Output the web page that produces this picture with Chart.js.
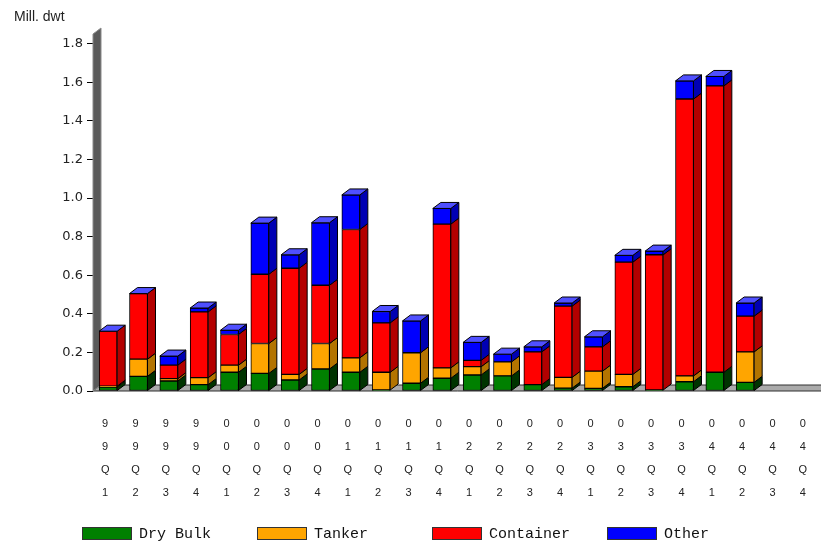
<!DOCTYPE html>
<html>
<head>
<meta charset="utf-8">
<script src="https://cdn.jsdelivr.net/npm/chart.js@4.4.1/dist/chart.umd.min.js"></script>
<style>
  html, body { margin: 0; padding: 0; background: #ffffff; overflow: hidden; }
  #wrap { width: 821px; height: 541px; position: relative; }
</style>
</head>
<body>
<div id="wrap"><canvas id="c" width="821" height="541"></canvas></div>
<script>
// Quarterly deliveries, million dwt, by ship type
const quarters = ['99Q1','99Q2','99Q3','99Q4','00Q1','00Q2','00Q3','00Q4',
                  '01Q1','01Q2','01Q3','01Q4','02Q1','02Q2','02Q3','02Q4',
                  '03Q1','03Q2','03Q3','03Q4','04Q1','04Q2','04Q3','04Q4'];
const dryBulk   = [0.020, 0.076, 0.052, 0.033, 0.097, 0.091, 0.057, 0.114,
                   0.097, 0.005, 0.040, 0.066, 0.083, 0.078, 0.033, 0.015,
                   0.014, 0.022, 0.005, 0.048, 0.097, 0.045, 0, 0];
const tanker    = [0.005, 0.089, 0.012, 0.036, 0.037, 0.155, 0.029, 0.132,
                   0.075, 0.092, 0.158, 0.054, 0.043, 0.073, 0.000, 0.056,
                   0.089, 0.064, 0.000, 0.030, 0.000, 0.158, 0, 0];
const container = [0.285, 0.340, 0.070, 0.341, 0.159, 0.359, 0.550, 0.302,
                   0.665, 0.256, 0.000, 0.745, 0.033, 0.000, 0.170, 0.369,
                   0.126, 0.582, 0.701, 1.435, 1.484, 0.185, 0, 0];
const other     = [0.000, 0.000, 0.047, 0.020, 0.022, 0.265, 0.070, 0.324,
                   0.179, 0.059, 0.165, 0.081, 0.093, 0.040, 0.026, 0.016,
                   0.052, 0.035, 0.019, 0.094, 0.049, 0.068, 0, 0];

const seriesNames = ['Dry Bulk', 'Tanker', 'Container', 'Other'];
const seriesData  = [dryBulk, tanker, container, other];
const frontColors = ['#008000', '#ffa500', '#ff0000', '#0000ff'];
const sideColors  = ['#003300', '#b37400', '#b30000', '#0000b3'];
const capColor    = '#5050ff';

const yMax = 1.85;
const yTicks = [0, 0.2, 0.4, 0.6, 0.8, 1.0, 1.2, 1.4, 1.6, 1.8];
const unitLabel = 'Mill. dwt';

// depth of the pseudo-3D extrusion
const DX = 8, DY = -6;

const threeD = {
  id: 'threeD',
  beforeDatasetsDraw(chart) {
    const { ctx, chartArea: a } = chart;
    const ys = chart.scales.y;
    const yTop = ys.getPixelForValue(yMax);
    const yBot = ys.getPixelForValue(0);
    ctx.save();
    ctx.lineWidth = 1;
    // floor
    ctx.beginPath();
    ctx.moveTo(a.left, yBot);
    ctx.lineTo(a.left + DX, yBot + DY);
    ctx.lineTo(a.right + 2, yBot + DY);
    ctx.lineTo(a.right + 2, yBot);
    ctx.closePath();
    ctx.fillStyle = '#aaaaaa';
    ctx.fill();
    ctx.strokeStyle = '#303030';
    ctx.stroke();
    // back wall
    ctx.beginPath();
    ctx.moveTo(a.left, yBot);
    ctx.lineTo(a.left, yTop);
    ctx.lineTo(a.left + DX, yTop + DY);
    ctx.lineTo(a.left + DX, yBot + DY);
    ctx.closePath();
    ctx.fillStyle = '#5a5a5a';
    ctx.fill();
    ctx.strokeStyle = '#8a8a8a';
    ctx.stroke();
    ctx.restore();
  },
  afterDatasetsDraw(chart) {
    const ctx = chart.ctx;
    const n = chart.data.labels.length;
    const metas = chart.data.datasets.map((d, i) => chart.getDatasetMeta(i));
    ctx.save();
    ctx.lineWidth = 1;
    ctx.strokeStyle = '#000';
    for (let j = 0; j < n; j++) {
      let total = 0;
      metas.forEach((m, i) => {
        const bar = m.data[j];
        total += chart.data.datasets[i].data[j];
        const x1 = bar.x + bar.width / 2;
        const top = bar.y, bot = bar.base;
        if (Math.abs(bot - top) < 0.5) return;
        ctx.beginPath();
        ctx.moveTo(x1, bot);
        ctx.lineTo(x1, top);
        ctx.lineTo(x1 + DX, top + DY);
        ctx.lineTo(x1 + DX, bot + DY);
        ctx.closePath();
        ctx.fillStyle = sideColors[i];
        ctx.fill();
        ctx.stroke();
      });
      if (total > 0) {
        const bar = metas[metas.length - 1].data[j];
        const x0 = bar.x - bar.width / 2, x1 = bar.x + bar.width / 2, y = bar.y;
        ctx.beginPath();
        ctx.moveTo(x0, y);
        ctx.lineTo(x0 + DX, y + DY);
        ctx.lineTo(x1 + DX, y + DY);
        ctx.lineTo(x1, y);
        ctx.closePath();
        ctx.fillStyle = capColor;
        ctx.fill();
        ctx.stroke();
      }
    }
    ctx.restore();
  },
  afterDraw(chart) {
    const ctx = chart.ctx;
    ctx.save();
    // unit caption above the value axis
    ctx.fillStyle = '#222';
    ctx.font = '14px "Liberation Sans", Arial, sans-serif';
    ctx.textBaseline = 'middle';
    ctx.textAlign = 'left';
    ctx.fillText(unitLabel, 14, 17);
    // legend row
    const lx0 = 82, step = 175, ly = 533, bw = 49, bh = 12;
    ctx.font = '15px "Liberation Mono", "DejaVu Sans Mono", monospace';
    chart.data.datasets.forEach((ds, i) => {
      const x = lx0 + i * step;
      ctx.fillStyle = ds.backgroundColor;
      ctx.fillRect(x + 0.5, ly - bh / 2 + 0.5, bw, bh);
      ctx.strokeStyle = '#333';
      ctx.lineWidth = 1;
      ctx.strokeRect(x + 0.5, ly - bh / 2 + 0.5, bw, bh);
      ctx.fillStyle = '#111';
      ctx.fillText(ds.label, x + bw + 8, ly + 1);
    });
    ctx.restore();
  }
};

const datasets = seriesNames.map((name, i) => ({
  label: name,
  data: seriesData[i],
  backgroundColor: frontColors[i],
  borderColor: '#000',
  borderWidth: 1,
  borderSkipped: false,
  barThickness: 18
}));

new Chart(document.getElementById('c'), {
  type: 'bar',
  data: { labels: quarters, datasets },
  plugins: [threeD],
  options: {
    responsive: false,
    animation: false,
    events: [],
    layout: { padding: { top: 34, right: 0, bottom: 0, left: 0 } },
    plugins: { legend: { display: false }, tooltip: { enabled: false }, title: { display: false } },
    scales: {
      x: {
        stacked: true,
        offset: true,
        grid: { display: false },
        border: { display: false },
        afterFit(scale) { scale.height = 150; scale.paddingLeft = 0; scale.paddingRight = 0; },
        ticks: {
          autoSkip: false,
          maxRotation: 0,
          minRotation: 0,
          padding: 13,
          labelOffset: -3,
          color: '#222',
          font: { family: '"Liberation Sans", Arial, sans-serif', size: 11, lineHeight: 2.1 },
          callback: (v, i) => quarters[i].split('')
        }
      },
      y: {
        stacked: true,
        min: 0,
        max: yMax,
        afterFit(scale) { scale.width = 93; },
        afterBuildTicks(scale) {
          scale.ticks = yTicks.map(v => ({ value: v }));
        },
        grid: { display: true, drawOnChartArea: false, drawTicks: true, tickLength: 6, color: '#000' },
        border: { display: false },
        ticks: {
          padding: 4,
          color: '#222',
          font: { family: '"DejaVu Sans", sans-serif', size: 13 },
          callback: v => Number(v).toFixed(1)
        }
      }
    }
  }
});
</script>
</body>
</html>
